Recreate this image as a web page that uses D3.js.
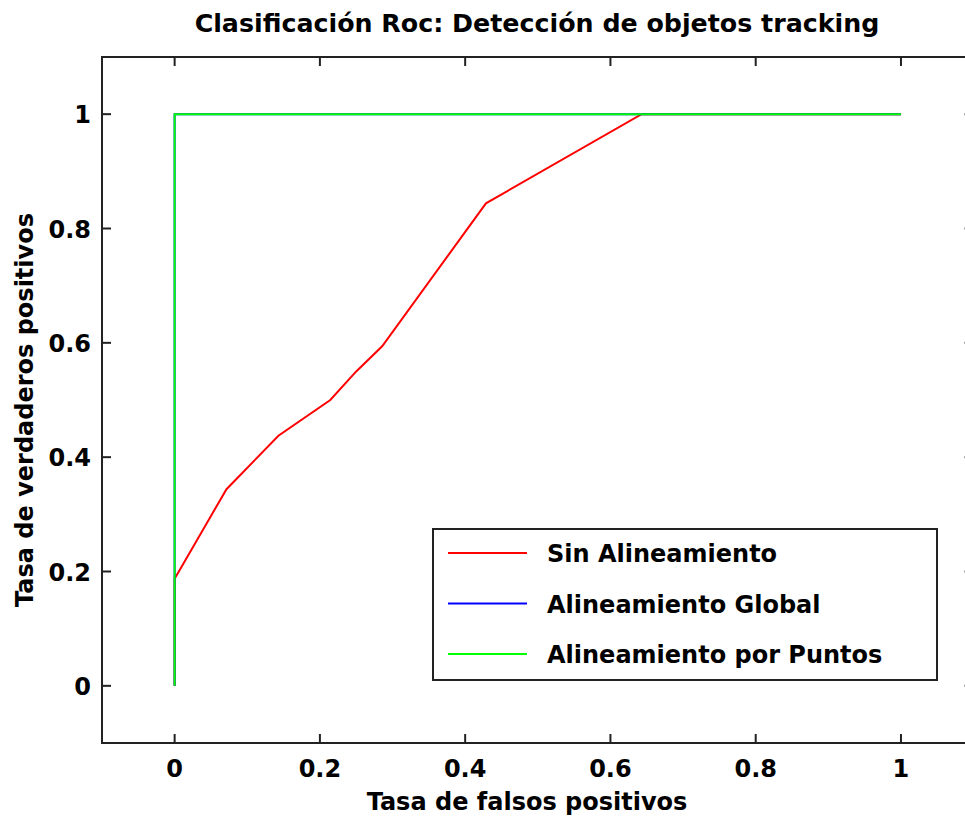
<!DOCTYPE html>
<html>
<head>
<meta charset="utf-8">
<script src="https://cdn.jsdelivr.net/npm/d3@7"></script>
<style>
    body { margin: 0; background: #fff; }
    svg text { font-family: "DejaVu Sans", "Liberation Sans", Arial, sans-serif; font-weight: bold; fill: #000; }
</style>
</head>
<body>
<div id="chart"></div>
<script>
// ROC curves (false positive rate, true positive rate)
const sinFpr = [0, 0, 0.0714, 0.1429, 0.2143, 0.25, 0.2857, 0.4286, 0.6429, 1];
const sinTpr = [0, 0.1875, 0.344, 0.4375, 0.5, 0.55, 0.594, 0.844, 1, 1];
const globalFpr = [0, 0, 1];
const globalTpr = [0, 1, 1];
const puntosFpr = [0, 0, 1];
const puntosTpr = [0, 1, 1];

const seriesNames = ["Sin Alineamiento", "Alineamiento Global", "Alineamiento por Puntos"];
const seriesColors = ["#ff0000", "#0000ff", "#00ff00"];
const xTicks = [0, 0.2, 0.4, 0.6, 0.8, 1];
const yTicks = [0, 0.2, 0.4, 0.6, 0.8, 1];

const width = 965, height = 818;
const plotLeft = 102, plotTop = 57, plotRight = 973.6, plotBottom = 743;
const fontSize = 24;

let svg = d3.select("#chart")
    .append("svg")
    .attr("width", width)
    .attr("height", height);

let x = d3.scaleLinear().domain([-0.1, 1.1]).range([plotLeft, plotRight]);
let y = d3.scaleLinear().domain([-0.1, 1.1]).range([plotBottom, plotTop]);

// box
svg.append("rect")
    .attr("x", plotLeft).attr("y", plotTop)
    .attr("width", plotRight - plotLeft).attr("height", plotBottom - plotTop)
    .attr("fill", "none").attr("stroke", "#222").attr("stroke-width", 2);

// ticks, on all four sides, pointing inward
let tickLen = 9;
let g = svg.append("g").attr("stroke", "#222").attr("stroke-width", 2);
xTicks.forEach(t => {
    g.append("line").attr("x1", x(t)).attr("x2", x(t)).attr("y1", plotBottom).attr("y2", plotBottom - tickLen);
    g.append("line").attr("x1", x(t)).attr("x2", x(t)).attr("y1", plotTop).attr("y2", plotTop + tickLen);
});
yTicks.forEach(t => {
    g.append("line").attr("x1", plotLeft).attr("x2", plotLeft + tickLen).attr("y1", y(t)).attr("y2", y(t));
    g.append("line").attr("x1", plotRight).attr("x2", plotRight - tickLen).attr("y1", y(t)).attr("y2", y(t));
});

// tick labels
svg.append("g").selectAll("text")
    .data(xTicks).enter()
    .append("text")
    .attr("x", d => x(d))
    .attr("y", 777)
    .attr("text-anchor", "middle")
    .attr("font-size", fontSize)
    .text(d => d3.format("")(d));

svg.append("g").selectAll("text")
    .data(yTicks).enter()
    .append("text")
    .attr("x", 91)
    .attr("y", d => y(d) + 9)
    .attr("text-anchor", "end")
    .attr("font-size", fontSize)
    .text(d => d3.format("")(d));

// series
let line = d3.line().x(d => x(d[0])).y(d => y(d[1]));
let series = [
    d3.zip(sinFpr, sinTpr),
    d3.zip(globalFpr, globalTpr),
    d3.zip(puntosFpr, puntosTpr)
];
svg.append("g").selectAll("path")
    .data(series).enter()
    .append("path")
    .attr("d", line)
    .attr("fill", "none")
    .attr("stroke", (d, i) => seriesColors[i])
    .attr("stroke-width", 2);

// title and axis labels
svg.append("text")
    .attr("x", 537).attr("y", 32)
    .attr("text-anchor", "middle")
    .attr("font-size", 25.3)
    .text("Clasificación Roc: Detección de objetos tracking");

svg.append("text")
    .attr("x", 527).attr("y", 810)
    .attr("text-anchor", "middle")
    .attr("font-size", fontSize)
    .text("Tasa de falsos positivos");

svg.append("text")
    .attr("transform", "translate(33,410) rotate(-90)")
    .attr("text-anchor", "middle")
    .attr("font-size", fontSize)
    .text("Tasa de verdaderos positivos");

// legend
let legend = svg.append("g");
legend.append("rect")
    .attr("x", 433).attr("y", 529)
    .attr("width", 504).attr("height", 151)
    .attr("fill", "#fff").attr("stroke", "#222").attr("stroke-width", 2);

let rows = legend.selectAll("g.row")
    .data(seriesNames).enter()
    .append("g")
    .attr("transform", (d, i) => `translate(0, ${553 + i * 50.5})`);
rows.append("line")
    .attr("x1", 448).attr("x2", 527)
    .attr("stroke", (d, i) => seriesColors[i])
    .attr("stroke-width", 2);
rows.append("text")
    .attr("x", 547).attr("y", 9)
    .attr("font-size", fontSize)
    .text(d => d);
</script>
</body>
</html>
